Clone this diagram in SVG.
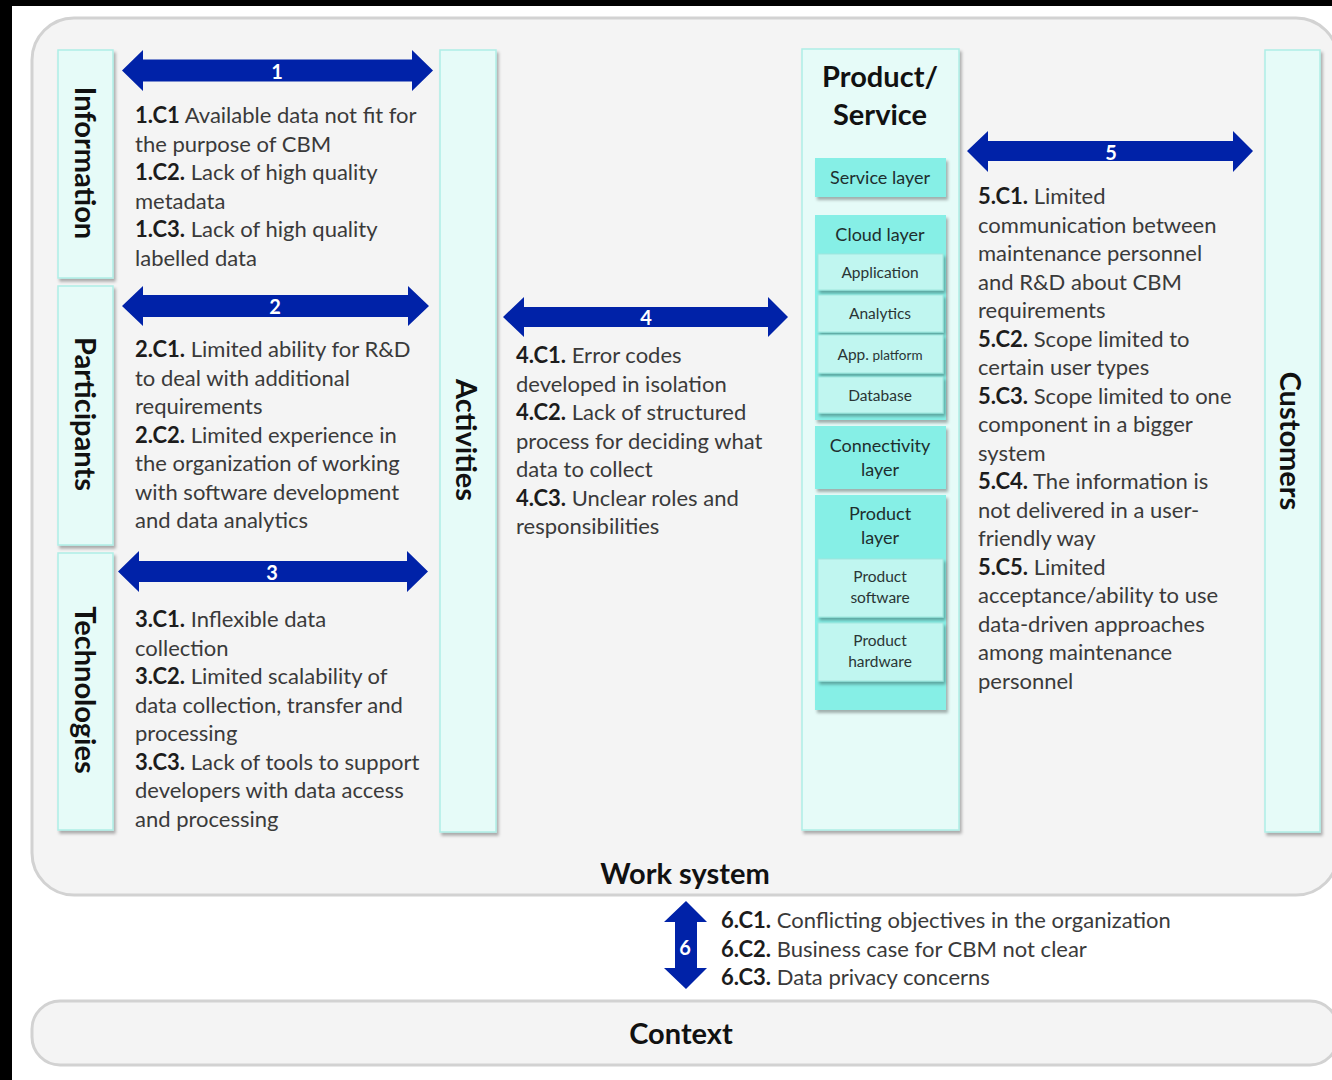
<svg xmlns="http://www.w3.org/2000/svg" width="1332" height="1080" viewBox="0 0 1332 1080">
<defs>
<filter id="sh" x="-20%" y="-20%" width="140%" height="140%">
<feDropShadow dx="2" dy="3" stdDeviation="1.5" flood-color="#000" flood-opacity="0.3"/>
</filter>
<style>
.frame{fill:#f4f4f4;stroke:#d2d2d2;stroke-width:3}
.col{fill:#e6fbf8;stroke:#aeeee6;stroke-width:1.5;filter:url(#sh)}
.lay{fill:#86efe6;filter:url(#sh)}
.sub{fill:#c0f6f0;stroke:#9fe6dd;stroke-width:1;filter:url(#sh)}
.arr{fill:#0022a8}
.num{font-family:Lato,"Liberation Sans",sans-serif;font-size:20px;font-weight:700;fill:#fff;text-anchor:middle}
.t{font-family:Lato,"Liberation Sans",sans-serif;font-size:22px;fill:#3a3a3a}
.b{font-weight:700;fill:#1c1c1c}
.ttl{font-family:Lato,"Liberation Sans",sans-serif;font-size:29px;font-weight:700;fill:#111;text-anchor:middle}
.vl{font-family:Lato,"Liberation Sans",sans-serif;font-size:29px;font-weight:700;fill:#111;text-anchor:middle;dominant-baseline:central}
.lt{font-family:Lato,"Liberation Sans",sans-serif;font-size:18px;fill:#1e2e2e;text-anchor:middle}
.st{font-family:Lato,"Liberation Sans",sans-serif;font-size:15.5px;fill:#2a3535;text-anchor:middle}
</style>
</defs>
<rect x="0" y="0" width="1332" height="1080" fill="#fff"/>
<rect x="0" y="0" width="12" height="1080" fill="#000"/>
<rect x="0" y="0" width="1332" height="6" fill="#000"/>

<g id="work-system">
<rect class="frame" x="32" y="18" width="1306" height="877" rx="42"/>
<text class="ttl" x="685" y="884">Work system</text>
</g>
<g id="context">
<rect class="frame" x="32" y="1001" width="1306" height="64" rx="28"/>
<text class="ttl" x="681" y="1044">Context</text>
</g>

<g id="information">
<rect class="col" x="58" y="50" width="55" height="228"/>
<text class="vl" transform="translate(86,163) rotate(90)">Information</text>
</g>
<g id="participants">
<rect class="col" x="58" y="286" width="55" height="259"/>
<text class="vl" transform="translate(86,414) rotate(90)">Participants</text>
</g>
<g id="technologies">
<rect class="col" x="58" y="553" width="55" height="277"/>
<text class="vl" transform="translate(86,690) rotate(90)">Technologies</text>
</g>
<g id="activities">
<rect class="col" x="440" y="50" width="56" height="782"/>
<text class="vl" transform="translate(467,440) rotate(90)">Activities</text>
</g>
<g id="customers">
<rect class="col" x="1265" y="50" width="55" height="782"/>
<text class="vl" transform="translate(1291,441) rotate(90)">Customers</text>
</g>

<g id="product-service">
<rect class="col" x="802" y="49" width="157" height="781"/>
<text class="ttl" x="880" y="87">Product/</text>
<text class="ttl" x="880" y="125">Service</text>
</g>
<g id="service-layer">
<rect class="lay" x="815" y="158" width="131" height="39"/>
<text class="lt" x="880" y="184">Service layer</text>
</g>
<g id="cloud-layer">
<rect class="lay" x="815" y="215" width="131" height="205"/>
<text class="lt" x="880" y="241">Cloud layer</text>
</g>
<g id="application">
<rect class="sub" x="818" y="254" width="125" height="36"/>
<text class="st" x="880" y="278">Application</text>
</g>
<g id="analytics">
<rect class="sub" x="818" y="295" width="125" height="37"/>
<text class="st" x="880" y="319">Analytics</text>
</g>
<g id="app-platform">
<rect class="sub" x="818" y="335" width="125" height="38"/>
<text class="st" x="880" y="360"><tspan>App.</tspan><tspan font-size="13.5px"> platform</tspan></text>
</g>
<g id="database">
<rect class="sub" x="818" y="377" width="125" height="36"/>
<text class="st" x="880" y="401">Database</text>
</g>
<g id="connectivity-layer">
<rect class="lay" x="815" y="426" width="131" height="63"/>
<text class="lt" x="880" y="452">Connectivity</text>
<text class="lt" x="880" y="476">layer</text>
</g>
<g id="product-layer">
<rect class="lay" x="815" y="495" width="131" height="215"/>
<text class="lt" x="880" y="520">Product</text>
<text class="lt" x="880" y="544">layer</text>
</g>
<g id="product-software">
<rect class="sub" x="818" y="559" width="125" height="58"/>
<text class="st" x="880" y="582">Product</text>
<text class="st" x="880" y="603">software</text>
</g>
<g id="product-hardware">
<rect class="sub" x="818" y="623" width="125" height="58"/>
<text class="st" x="880" y="646">Product</text>
<text class="st" x="880" y="667">hardware</text>
</g>

<g id="connectors">
<path class="arr" d="M122,70.5 L143,50 L143,59.5 L412,59.5 L412,50 L433,70.5 L412,91 L412,81.5 L143,81.5 L143,91 Z"/>
<text class="num" x="277" y="79">1</text>
<path class="arr" d="M122,306 L143,286 L143,295 L408,295 L408,286 L429,306 L408,326 L408,317 L143,317 L143,326 Z"/>
<text class="num" x="275" y="314">2</text>
<path class="arr" d="M118,571.5 L139,551 L139,561 L407,561 L407,551 L428,571.5 L407,592 L407,582 L139,582 L139,592 Z"/>
<text class="num" x="272" y="580">3</text>
<path class="arr" d="M503,317 L524,297 L524,307 L768,307 L768,297 L788,317 L768,337 L768,327 L524,327 L524,337 Z"/>
<text class="num" x="646" y="325">4</text>
<path class="arr" d="M967,151 L988,131 L988,141 L1233,141 L1233,131 L1253,151 L1233,172 L1233,161 L988,161 L988,172 Z"/>
<text class="num" x="1111" y="160">5</text>
<path class="arr" d="M686,901 L707,922 L697,922 L697,968 L707,968 L686,989 L664,968 L675,968 L675,922 L664,922 Z"/>
<text class="num" x="685" y="955">6</text>
</g>

<g id="text-1">
<text class="t" x="135" y="123"><tspan class="b">1.C1</tspan> Available data not fit for</text>
<text class="t" x="135" y="151.5">the purpose of CBM</text>
<text class="t" x="135" y="180"><tspan class="b">1.C2.</tspan> Lack of high quality</text>
<text class="t" x="135" y="208.5">metadata</text>
<text class="t" x="135" y="237"><tspan class="b">1.C3.</tspan> Lack of high quality</text>
<text class="t" x="135" y="265.5">labelled data</text>
</g>
<g id="text-2">
<text class="t" x="135" y="357"><tspan class="b">2.C1.</tspan> Limited ability for R&amp;D</text>
<text class="t" x="135" y="385.5">to deal with additional</text>
<text class="t" x="135" y="414">requirements</text>
<text class="t" x="135" y="442.5"><tspan class="b">2.C2.</tspan> Limited experience in</text>
<text class="t" x="135" y="471">the organization of working</text>
<text class="t" x="135" y="499.5">with software development</text>
<text class="t" x="135" y="528">and data analytics</text>
</g>
<g id="text-3">
<text class="t" x="135" y="627"><tspan class="b">3.C1.</tspan> Inflexible data</text>
<text class="t" x="135" y="655.5">collection</text>
<text class="t" x="135" y="684"><tspan class="b">3.C2.</tspan> Limited scalability of</text>
<text class="t" x="135" y="712.5">data collection, transfer and</text>
<text class="t" x="135" y="741">processing</text>
<text class="t" x="135" y="769.5"><tspan class="b">3.C3.</tspan> Lack of tools to support</text>
<text class="t" x="135" y="798">developers with data access</text>
<text class="t" x="135" y="826.5">and processing</text>
</g>
<g id="text-4">
<text class="t" x="516" y="363"><tspan class="b">4.C1.</tspan> Error codes</text>
<text class="t" x="516" y="391.5">developed in isolation</text>
<text class="t" x="516" y="420"><tspan class="b">4.C2.</tspan> Lack of structured</text>
<text class="t" x="516" y="448.5">process for deciding what</text>
<text class="t" x="516" y="477">data to collect</text>
<text class="t" x="516" y="505.5"><tspan class="b">4.C3.</tspan> Unclear roles and</text>
<text class="t" x="516" y="534">responsibilities</text>
</g>
<g id="text-5">
<text class="t" x="978" y="204"><tspan class="b">5.C1.</tspan> Limited</text>
<text class="t" x="978" y="232.5">communication between</text>
<text class="t" x="978" y="261">maintenance personnel</text>
<text class="t" x="978" y="289.5">and R&amp;D about CBM</text>
<text class="t" x="978" y="318">requirements</text>
<text class="t" x="978" y="346.5"><tspan class="b">5.C2.</tspan> Scope limited to</text>
<text class="t" x="978" y="375">certain user types</text>
<text class="t" x="978" y="403.5"><tspan class="b">5.C3.</tspan> Scope limited to one</text>
<text class="t" x="978" y="432">component in a bigger</text>
<text class="t" x="978" y="460.5">system</text>
<text class="t" x="978" y="489"><tspan class="b">5.C4.</tspan> The information is</text>
<text class="t" x="978" y="517.5">not delivered in a user-</text>
<text class="t" x="978" y="546">friendly way</text>
<text class="t" x="978" y="574.5"><tspan class="b">5.C5.</tspan> Limited</text>
<text class="t" x="978" y="603">acceptance/ability to use</text>
<text class="t" x="978" y="631.5">data-driven approaches</text>
<text class="t" x="978" y="660">among maintenance</text>
<text class="t" x="978" y="688.5">personnel</text>
</g>
<g id="text-6">
<text class="t" x="721" y="928"><tspan class="b">6.C1.</tspan> Conflicting objectives in the organization</text>
<text class="t" x="721" y="956.5"><tspan class="b">6.C2.</tspan> Business case for CBM not clear</text>
<text class="t" x="721" y="985"><tspan class="b">6.C3.</tspan> Data privacy concerns</text>
</g>
</svg>
